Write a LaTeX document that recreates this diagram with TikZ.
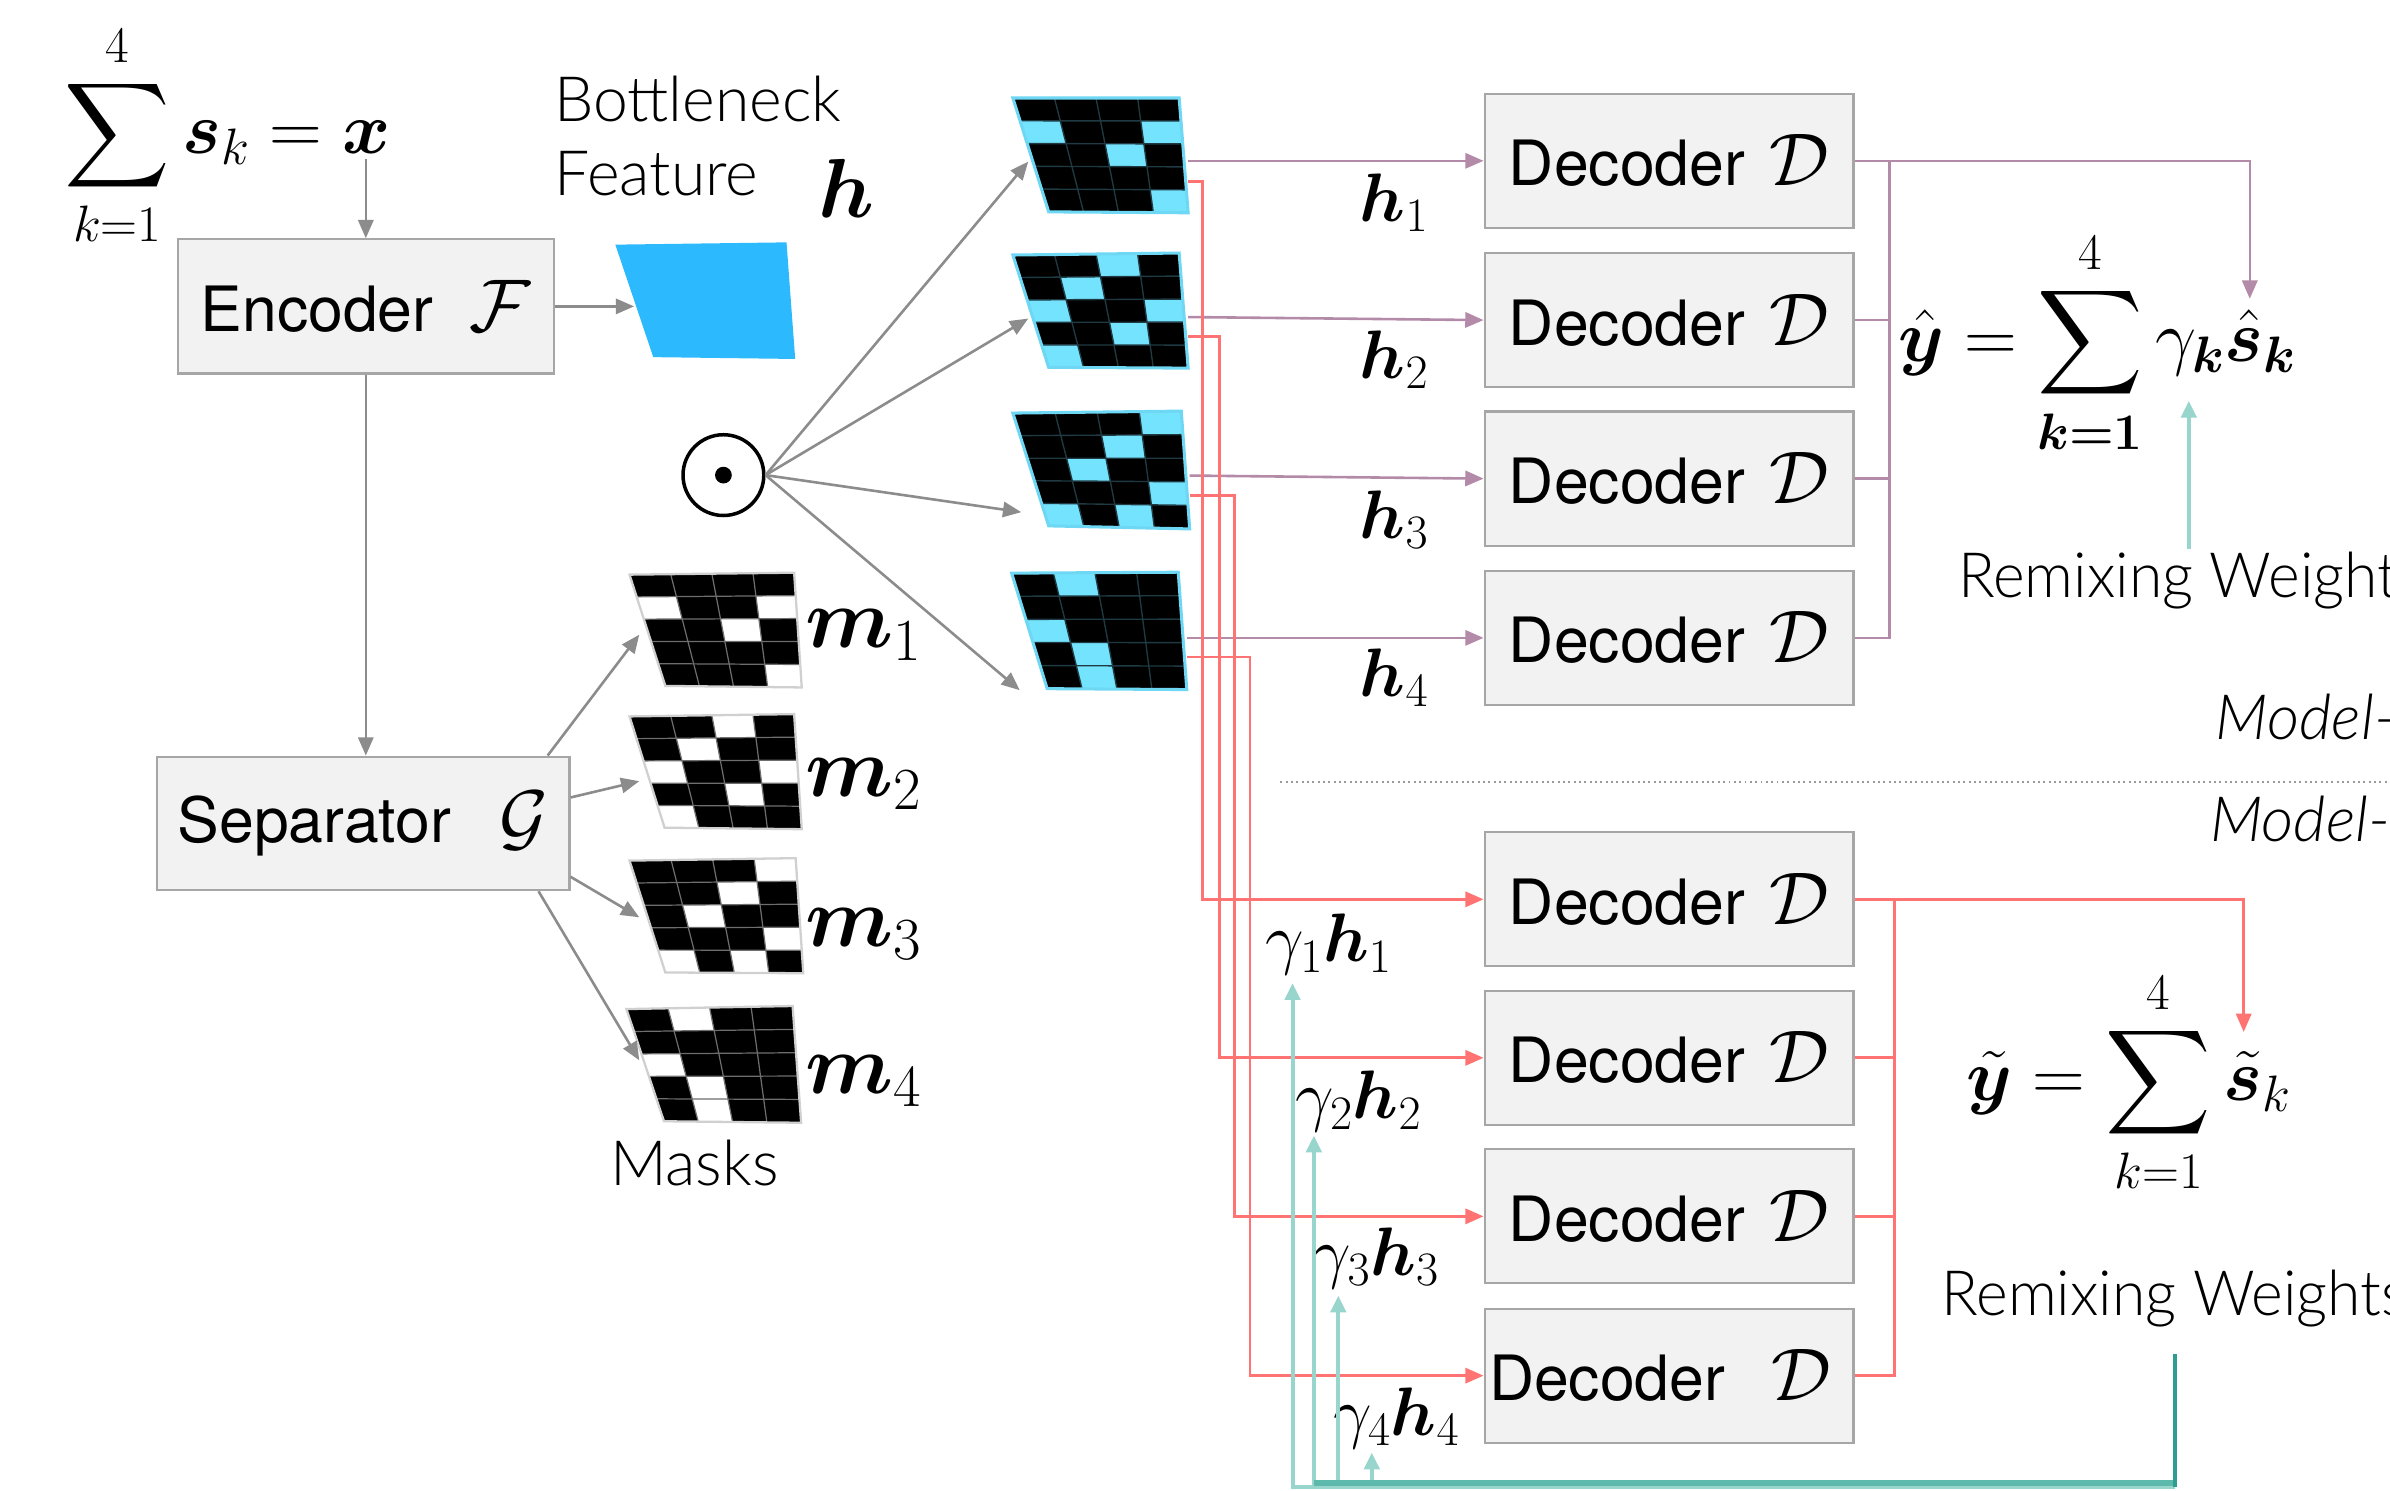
\RequirePackage{fix-cm}
\documentclass[tikz,border=0pt]{standalone}
\usepackage{amsmath}
\usepackage{bm}
\usepackage{fontspec}
\newfontfamily\heros{TeX Gyre Heros}
\newfontfamily\lightfont{Lato Light}[ItalicFont={Lato Light Italic}]
\usetikzlibrary{arrows.meta,calc}
\DeclareFontShape{OMX}{cmex}{m}{n}{<->cmex10}{}

\definecolor{boxfill}{HTML}{F2F2F2}
\definecolor{boxdraw}{HTML}{A6A6A6}
\definecolor{arrgray}{HTML}{8C8C8C}
\definecolor{featblue}{HTML}{2DB9FE}
\definecolor{cyancell}{HTML}{74E3FE}
\definecolor{cyanedge}{HTML}{6ED8F4}
\definecolor{gridteal}{HTML}{1F3A42}
\definecolor{maskline}{HTML}{6E6E6E}
\definecolor{maskedge}{HTML}{D0D0D0}
\definecolor{purp}{HTML}{B38AA8}
\definecolor{redl}{HTML}{FF7373}
\definecolor{tealL}{HTML}{98D5CC}
\definecolor{tealM}{HTML}{5DB9AB}
\definecolor{tealD}{HTML}{2D9E90}
\definecolor{dotgray}{HTML}{9A9A9A}

\newcommand{\calD}{{\fontsize{49}{55}\selectfont$\mathcal{D}$}}

\newcommand{\quadgrid}[6]{%
  \coordinate (#1a) at #2; \coordinate (#1b) at #3;
  \coordinate (#1c) at #4; \coordinate (#1d) at #5;
  \fill[qbg] (#1a)--(#1b)--(#1c)--(#1d)--cycle;
  \foreach \r/\c in {#6}{%
    \pgfmathsetmacro\ua{(\c-1)/4}\pgfmathsetmacro\ub{\c/4}%
    \pgfmathsetmacro\va{(\r-1)/5}\pgfmathsetmacro\vb{\r/5}%
    \fill[qcell] ($($(#1a)!\ua!(#1b)$)!\va!($(#1d)!\ua!(#1c)$)$) --
      ($($(#1a)!\ub!(#1b)$)!\va!($(#1d)!\ub!(#1c)$)$) --
      ($($(#1a)!\ub!(#1b)$)!\vb!($(#1d)!\ub!(#1c)$)$) --
      ($($(#1a)!\ua!(#1b)$)!\vb!($(#1d)!\ua!(#1c)$)$) -- cycle;}
  \foreach \i in {1,2,3}{\draw[qline] ($(#1a)!\i/4!(#1b)$) -- ($(#1d)!\i/4!(#1c)$);}
  \foreach \i in {1,2,3,4}{\draw[qline] ($(#1a)!\i/5!(#1d)$) -- ($(#1b)!\i/5!(#1c)$);}
  \draw[qedge] (#1a)--(#1b)--(#1c)--(#1d)--cycle;
}

\tikzset{
  box/.style={draw=boxdraw, fill=boxfill, line width=1.4pt, inner sep=0pt,
    minimum width=242pt, minimum height=88pt, font=\heros\fontsize{41}{48}\selectfont},
  garrow/.style={draw=arrgray, line width=1.7pt, -{Triangle[length=12pt,width=10pt]}},
  parrow/.style={draw=purp, line width=1.7pt, -{Triangle[length=12pt,width=10pt]}},
  pline/.style={draw=purp, line width=1.7pt},
  rarrow/.style={draw=redl, line width=1.8pt, -{Triangle[length=12pt,width=10pt]}},
  rline/.style={draw=redl, line width=1.8pt},
  tarrow/.style={draw=tealL, line width=2.6pt, -{Triangle[length=11pt,width=10pt]}},
  mlbl/.style={inner sep=0pt, anchor=base west, font=\fontsize{45}{54}\selectfont},
  flbl/.style={inner sep=0pt, anchor=base west, font=\fontsize{48}{56}\selectfont},
  biglbl/.style={inner sep=0pt, anchor=base west, font=\fontsize{56}{64}\selectfont},
  ltxt/.style={inner sep=0pt, anchor=base west, font=\lightfont\fontsize{41}{48}\selectfont},
  maskstyle/.style={qbg/.style={fill=black}, qcell/.style={fill=white},
    qline/.style={draw=maskline, line width=0.8pt}, qedge/.style={draw=maskedge, line width=1.5pt}},
  hstyle/.style={qbg/.style={fill=black}, qcell/.style={fill=cyancell},
    qline/.style={draw=gridteal, line width=0.9pt}, qedge/.style={draw=cyanedge, line width=2pt}},
}

\begin{document}
\begin{tikzpicture}[x=1pt,y=-1pt]
\useasboundingbox (0,0) rectangle (1568,978);
\clip (0,0) rectangle (1568,978);
\fill[white] (0,0) rectangle (1568,978);

% ---- left part
\node[flbl] (sumx) at (42,101) {$\displaystyle\sum_{k=1}^{4}\bm{s}_k=\bm{x}$};
\coordinate (sx) at (240,104);
\node[box, minimum width=246.6pt, minimum height=88pt] (enc) at (240,201)
  {Encoder\hspace{24pt}{\fontsize{49}{55}\selectfont$\mathcal{F}$}};
\draw[garrow] (sx) -- (enc.north);

\fill[featblue] (403.7,160.5) -- (516,159) -- (521.7,235.5) -- (428.6,234.3) -- cycle;
\coordinate (featin) at (416,201);
\draw[garrow] (enc.east) -- (featin);
\node[ltxt] (bn1) at (363.5,79.7) {Bottleneck};
\node[ltxt] (bn2) at (363.5,128.4) {Feature};
\node[inner sep=0pt, anchor=base west, font=\fontsize{55}{62}\selectfont] (hbig) at (537,143) {$\bm{h}$};

\node[box, minimum width=270.6pt, minimum height=87.6pt] (sep) at (238.3,540.2)
  {Separator\hspace{32pt}{\fontsize{49}{55}\selectfont$\mathcal{G}$}};
\draw[garrow] (enc.south) -- (enc.south |- sep.north);

% ---- masks
\begin{scope}[maskstyle]
\quadgrid{ma}{(413,377)}{(521,375.7)}{(526,451)}{(436.5,450)}{2/1,2/4,3/3,5/4}
\quadgrid{mb}{(413,470)}{(521,468.5)}{(526,544)}{(436,543)}{1/3,2/2,3/1,3/4,4/3,5/1}
\quadgrid{mc}{(413,564.6)}{(522,563)}{(527,638.5)}{(436.5,638)}{1/4,2/3,3/2,4/4,5/1,5/3}
\quadgrid{md}{(411,662)}{(520,660)}{(525.6,736.6)}{(435.6,735.6)}{1/2,3/1,4/2,5/2}
\end{scope}
\node[biglbl] (lm1) at (528,424.6) {$\bm{m}_1$};
\node[biglbl] (lm2) at (528,522.8) {$\bm{m}_2$};
\node[biglbl] (lm3) at (528,620.8) {$\bm{m}_3$};
\node[biglbl] (lm4) at (528,717.6) {$\bm{m}_4$};
\node[ltxt] (masks) at (400,777.6) {Masks};

\coordinate (ms1) at ($(sep.north east)+(-15,0)$);
\coordinate (ms2) at ($(sep.east)+(0,-17)$);
\coordinate (ms3) at ($(sep.east)+(0,35)$);
\coordinate (ms4) at ($(sep.south east)+(-21,0)$);
\coordinate (mt1) at (419.4,416.4);
\coordinate (mt2) at (419.4,512.5);
\coordinate (mt3) at (419.4,601.8);
\coordinate (mt4) at (419.4,695.6);
\foreach \i in {1,2,3,4}{\draw[garrow] (ms\i) -- (mt\i);}

% ---- odot
\node[circle, draw=black, line width=2.3pt, minimum size=53pt, inner sep=0pt] (odot) at (474.6,311.7) {};
\fill[black] (odot.center) circle (5.5);
\coordinate (ht1) at (674.6,106);
\coordinate (ht2) at (674.6,209);
\coordinate (ht3) at (670,336);
\coordinate (ht4) at (669,452.8);
\foreach \i in {1,2,3,4}{\draw[garrow] (odot.east) -- (ht\i);}

% ---- masked features
\begin{scope}[hstyle]
\quadgrid{ha}{(664.5,64.3)}{(773.6,64.3)}{(779.5,139.6)}{(688,139)}{2/1,2/4,3/3,5/4}
\quadgrid{hb}{(664.5,167.3)}{(773.6,166)}{(779.5,241.5)}{(688,241)}{1/3,2/2,3/1,3/4,4/3,5/1}
\quadgrid{hc}{(664.5,271)}{(775,269.7)}{(780.5,347)}{(688,345)}{1/4,2/3,3/2,4/4,5/1,5/3}
\quadgrid{hd}{(663.7,376)}{(773,375.4)}{(778.6,452.4)}{(687,451.8)}{1/2,3/1,4/2,5/2}
\end{scope}

% ---- upper decoders
\foreach \i/\y in {1/105.5,2/210,3/314,4/418.5}{
  \node[box] (dec\i) at (1095,\y) {Decoder\hspace{16pt}\calD};}
\node[mlbl] (lh1) at (892,145) {$\bm{h}_1$};
\node[mlbl] (lh2) at (892,248) {$\bm{h}_2$};
\node[mlbl] (lh3) at (892,353) {$\bm{h}_3$};
\node[mlbl] (lh4) at (892,457) {$\bm{h}_4$};

\coordinate (hp1) at (779.5,105.5);
\coordinate (hp2) at (779.5,208);
\coordinate (hp3) at (780.5,312);
\coordinate (hp4) at (779,418.5);
\foreach \i in {1,2,3,4}{\draw[parrow] (hp\i) -- (dec\i.west);}

\draw[pline] (dec1.east) -- ++(23,0) coordinate (pj) |- (dec4.east);
\draw[pline] (dec2.east) -- (dec2.east -| pj);
\draw[pline] (dec3.east) -- (dec3.east -| pj);
\coordinate (ptip) at (1476,196);
\draw[parrow] (pj) -| (ptip);

\node[flbl] (yhat) at (1245,237)
  {$\hat{\bm{y}}=\displaystyle\sum_{\bm{k=1}}^{4}\gamma_{\bm{k}}\hat{\bm{s}}_{\bm{k}}$};
\node[ltxt] (rw1) at (1284.5,391.7) {\scalebox{0.97}[1]{Remixing Weights}};
\coordinate (tw1a) at (1436,360);
\coordinate (tw1b) at (1436,263);
\draw[tarrow] (tw1a) -- (tw1b);

\node[ltxt] (mod1) at (1453.4,485) {\itshape Model-};
\coordinate (dl1) at (840,513.3);
\coordinate (dl2) at (1568,513.3);
\draw[draw=dotgray, line width=1.3pt, dash pattern=on 1.3pt off 2.2pt] (dl1) -- (dl2);
\node[ltxt] (mod2) at (1449.7,552) {\itshape Model-};

% ---- lower decoders
\foreach \i/\y in {1/590,2/694,3/798}{
  \node[box] (ldec\i) at (1095,\y) {Decoder\hspace{16pt}\calD};}
\node[box] (ldec4) at (1095,902.5) {Decoder\hspace{30pt}\calD\hspace{12pt}\null};

\coordinate (hr1) at (779.5,119);
\coordinate (hr2) at (779.5,221);
\coordinate (hr3) at (780.5,325);
\coordinate (hr4) at (779,431);
\coordinate (rx1) at (789,0);
\coordinate (rx2) at (800,0);
\coordinate (rx3) at (810,0);
\coordinate (rx4) at (820,0);
\foreach \i in {1,2,3,4}{\draw[rarrow] (hr\i) -| (ldec\i.west -| rx\i) -- (ldec\i.west);}

\draw[rline] (ldec1.east) -- ++(26,0) coordinate (rj) |- (ldec4.east);
\draw[rline] (ldec2.east) -- (ldec2.east -| rj);
\draw[rline] (ldec3.east) -- (ldec3.east -| rj);
\coordinate (rtip) at (1472,677);
\draw[rarrow] (rj) -| (rtip);

\node[flbl] (ytil) at (1290,722)
  {$\tilde{\bm{y}}=\displaystyle\sum_{k=1}^{4}\tilde{\bm{s}}_k$};
\node[ltxt] (rw2) at (1273.6,863) {\scalebox{0.97}[1]{Remixing Weights}};

\node[mlbl] (g1) at (830,631) {$\gamma_1\bm{h}_1$};
\node[mlbl] (g2) at (849.6,734) {$\gamma_2\bm{h}_2$};
\node[mlbl] (g3) at (861,836.6) {$\gamma_3\bm{h}_3$};
\node[mlbl] (g4) at (874.5,941.6) {$\gamma_4\bm{h}_4$};

\coordinate (tc) at (1427,975.5);
\coordinate (tt1) at (848,645);
\coordinate (tt2) at (862,745);
\coordinate (tt3) at (878,850);
\coordinate (tt4) at (900,953);
\foreach \i in {1,2,3,4}{\draw[tarrow] (tc) -| (tt\i);}
\coordinate (tm1) at (862,973);
\coordinate (tm2) at (1427,973);
\draw[draw=tealM, line width=4.2pt] (tm1) -- (tm2);
\coordinate (td1) at (1427,888);
\draw[draw=tealD, line width=3pt] (td1) -- (tc);
\end{tikzpicture}
\end{document}
